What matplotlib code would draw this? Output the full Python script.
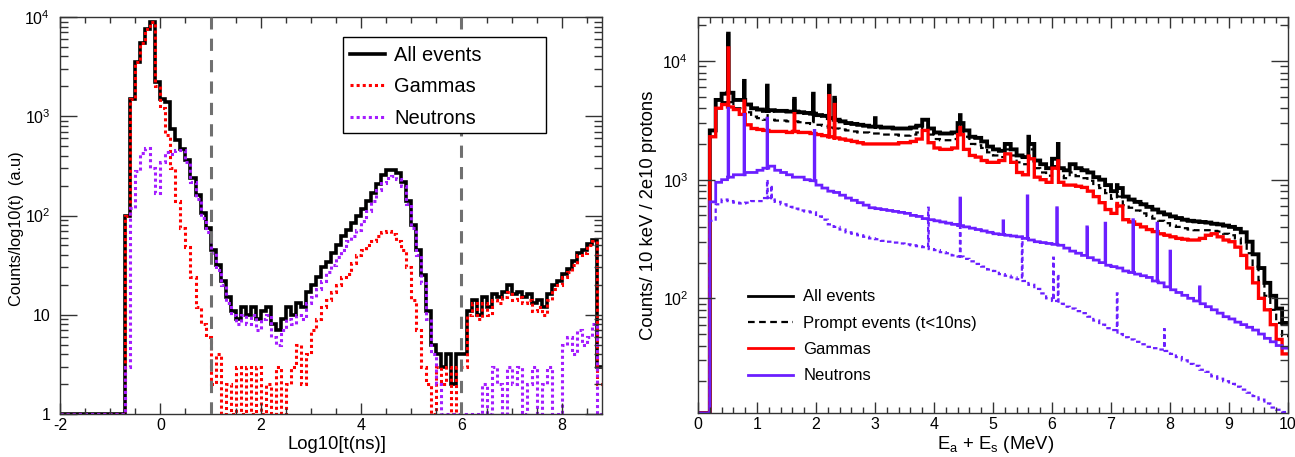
import numpy as np
import matplotlib.pyplot as plt
from matplotlib.lines import Line2D
from matplotlib.patches import Rectangle
from matplotlib.ticker import FixedLocator, FixedFormatter, MultipleLocator, LogLocator, NullFormatter

plt.rcParams['font.family'] = ['Liberation Sans', 'DejaVu Sans']
plt.rcParams['mathtext.fontset'] = 'custom'
plt.rcParams['mathtext.rm'] = 'Liberation Sans'
plt.rcParams['mathtext.it'] = 'Liberation Sans:italic'
plt.rcParams['axes.unicode_minus'] = False

# ---- left panel: time spectrum, bins of 0.1 in log10(t[ns]) from -2 to 8.8
t_all = [
    0, 0, 0, 0, 0, 0, 0, 0, 0, 0,
    0, 0, 0, 100, 1500, 3500, 5500, 7500, 9000, 2200,
    1500, 1400, 750, 580, 470, 360, 240, 160, 105, 75,
    45, 32, 22, 15, 11, 9, 12, 10, 12, 9,
    11, 12, 8, 7, 9, 12, 10, 13, 12, 17,
    20, 24, 30, 34, 42, 50, 62, 72, 85, 98,
    115, 140, 170, 210, 255, 290, 290, 265, 220, 140,
    80, 45, 25, 11, 5, 4, 3, 4, 2, 4,
    4, 11, 14, 10, 15, 12, 16, 15, 17, 20,
    16, 17, 15, 16, 13, 14, 12, 16, 20, 22,
    26, 29, 35, 42, 45, 52, 57, 3]
t_gamma = [
    0, 0, 0, 0, 0, 0, 0, 0, 0, 0,
    0, 0, 0, 100, 1500, 3500, 5500, 7500, 9000, 2000,
    1200, 650, 300, 140, 75, 48, 24, 12, 8, 6,
    2, 4, 0, 2, 1, 3, 0, 3, 1, 3,
    0, 2, 1, 3, 1, 2, 3, 5, 2, 4,
    7, 9, 12, 14, 17, 20, 24, 26, 33, 40,
    45, 50, 55, 62, 68, 70, 65, 55, 45, 30,
    14, 7, 3, 2, 1, 3, 2, 3, 1, 3,
    3, 10, 13, 9, 13, 10, 14, 13, 15, 17,
    14, 15, 13, 14, 11, 12, 10, 14, 18, 20,
    24, 27, 32, 40, 42, 50, 55, 2]
t_neutron = [
    0, 0, 0, 0, 0, 0, 0, 0, 0, 0,
    0, 0, 0, 3, 120, 280, 430, 480, 300, 170,
    350, 440, 420, 460, 460, 350, 220, 145, 95, 68,
    42, 28, 20, 13, 10, 8, 10, 8, 10, 7,
    9, 10, 6, 5, 7, 9, 8, 10, 9, 13,
    15, 18, 22, 27, 32, 38, 45, 55, 62, 72,
    88, 110, 140, 180, 215, 240, 250, 235, 200, 130,
    75, 40, 21, 9, 4, 2, 1, 0, 0, 1,
    0, 0, 1, 0, 2, 1, 3, 2, 1, 3,
    2, 3, 1, 2, 3, 1, 2, 3, 1, 0,
    5, 6, 4, 7, 5, 6, 8, 1]
t_cuts = [1, 6]

# ---- right panel: energy spectrum, continuum in 0.1 MeV bins + narrow lines
e_all = [
    0, 0, 2600, 4700, 5300, 5400, 4700, 4700, 4300, 4000,
    3900, 3800, 3850, 3800, 3800, 3750, 3750, 3700, 3650, 3600,
    3500, 3450, 3300, 3200, 3100, 3000, 2950, 2900, 2850, 2800,
    2800, 2750, 2750, 2700, 2700, 2700, 2750, 2850, 3200, 2700,
    2500, 2450, 2450, 2500, 3000, 2600, 2300, 2250, 2100, 1900,
    1800, 1750, 2000, 1800, 1600, 1550, 2000, 1450, 1350, 1250,
    1500, 1250, 1200, 1350, 1250, 1200, 1150, 1050, 1000, 900,
    800, 850, 720, 680, 650, 620, 590, 560, 530, 510,
    490, 475, 460, 450, 445, 440, 435, 425, 420, 410,
    400, 385, 360, 300, 235, 180, 135, 105, 82, 62]
e_prompt = [
    0, 0, 2300, 4000, 4500, 4500, 4000, 4000, 3700, 3400,
    3300, 3200, 3200, 3150, 3150, 3100, 3100, 3050, 3000, 2950,
    2900, 2850, 2750, 2700, 2650, 2600, 2550, 2500, 2500, 2450,
    2450, 2400, 2400, 2400, 2350, 2350, 2400, 2500, 2900, 2400,
    2200, 2150, 2150, 2200, 2700, 2300, 2000, 1950, 1850, 1700,
    1600, 1550, 1800, 1600, 1400, 1350, 1800, 1250, 1150, 1080,
    1300, 1080, 1030, 1150, 1070, 1030, 980, 900, 850, 770,
    690, 720, 610, 580, 550, 520, 495, 470, 450, 430,
    410, 400, 390, 380, 375, 375, 375, 370, 365, 350,
    340, 320, 290, 240, 185, 140, 105, 80, 62, 48]
e_gamma = [
    0, 0, 2300, 4000, 4300, 4100, 3900, 3550, 2900, 2700,
    2650, 2600, 2550, 2550, 2550, 2500, 2550, 2500, 2500, 2450,
    2400, 2350, 2300, 2250, 2200, 2150, 2100, 2050, 2000, 2000,
    2000, 2000, 2000, 2000, 2050, 2050, 2100, 2200, 2600, 2050,
    1850, 1800, 1800, 1850, 2400, 1800, 1600, 1550, 1450, 1400,
    1400, 1450, 1650, 1400, 1150, 1100, 1500, 1050, 1000, 950,
    1250, 950, 900, 900, 880, 860, 800, 720, 640, 560,
    520, 600, 460, 440, 420, 400, 380, 365, 350, 340,
    330, 320, 315, 310, 310, 320, 340, 350, 330, 310,
    300, 270, 230, 180, 135, 100, 80, 60, 45, 34]
e_neutron = [
    0, 0, 650, 950, 1000, 1050, 1100, 1100, 1150, 1150,
    1200, 1250, 1300, 1200, 1150, 1100, 1050, 1050, 1000, 980,
    900, 850, 800, 780, 740, 700, 670, 640, 610, 580,
    570, 560, 550, 540, 530, 520, 500, 490, 470, 460,
    450, 440, 430, 420, 410, 400, 390, 380, 370, 360,
    350, 345, 340, 335, 330, 320, 310, 300, 295, 290,
    285, 280, 265, 250, 240, 230, 220, 210, 200, 190,
    185, 180, 170, 165, 160, 155, 150, 140, 135, 125,
    118, 112, 106, 100, 95, 90, 85, 80, 75, 70,
    67, 63, 60, 57, 54, 50, 46, 43, 40, 38]
e_neutron_prompt = [
    0, 0, 450, 620, 680, 660, 640, 630, 640, 660,
    660, 700, 680, 650, 620, 590, 570, 550, 540, 530,
    490, 460, 420, 400, 380, 360, 350, 340, 330, 320,
    315, 305, 300, 295, 290, 285, 280, 275, 270, 260,
    255, 245, 240, 230, 225, 215, 205, 195, 185, 175,
    170, 160, 155, 150, 145, 140, 130, 120, 110, 100,
    95, 90, 85, 82, 78, 75, 70, 65, 60, 56,
    54, 50, 47, 45, 43, 41, 39, 38, 37, 36,
    34, 32, 30, 28, 27, 25, 24, 22, 21, 20,
    19, 18, 17, 16, 15, 14, 13, 12, 11.5, 11]

# narrow lines: energy (MeV) and peak height
lines_all = [(0.51, 17000), (0.78, 6800), (1.17, 6200), (1.63, 4800), (1.95, 5300),
             (2.22, 6200), (2.31, 4900), (3.0, 3300), (4.44, 3500), (5.6, 2300),
             (6.1, 2000), (7.1, 900)]
lines_prompt = [(0.51, 15000), (0.78, 5800), (1.17, 4000), (1.63, 4200), (1.95, 4000),
                (2.22, 5600), (2.31, 4400), (4.44, 3100), (5.6, 2000), (6.1, 1800),
                (7.1, 800)]
lines_gamma = [(0.51, 12900), (0.78, 4600), (1.63, 3600), (2.22, 5100), (2.31, 4300),
               (4.44, 2750), (5.6, 1580), (6.1, 1440), (7.1, 630)]
lines_neutron = [(0.51, 4000), (0.78, 3550), (1.17, 3300), (1.97, 2600), (4.44, 700),
                 (5.17, 450), (5.58, 730), (6.08, 580), (6.59, 400), (6.9, 430),
                 (7.37, 460), (7.78, 430), (8.0, 250), (8.5, 125)]
lines_neutron_prompt = [(1.17, 1000), (1.24, 900), (3.9, 580), (4.44, 400), (5.49, 330),
                        (6.02, 220), (6.1, 160), (7.1, 110), (7.9, 55)]

e_edges = np.linspace(0, 10, 1001)


def fine_spectrum(coarse, lines):
    y = np.repeat(np.asarray(coarse, dtype=float), 10)
    for e, h in lines:
        i = int(round(e * 100))
        y[i] = max(y[i], h)
    return y


fig = plt.figure(figsize=(12.95, 4.57), dpi=100)
W, H = 1295, 457
RED = '#ff0000'
VIOLET_L = '#a41cff'
VIOLET_R = '#6b1fff'

# ================= left =================
ax1 = fig.add_axes([60 / W, (H - 414) / H, 542 / W, 397 / H])
t_edges = np.linspace(-2.0, 8.8, len(t_all) + 1)
ymin1 = 1.0
ax1.stairs(np.maximum(t_all, ymin1), t_edges, baseline=None, color='black', lw=2.6)
ax1.stairs(np.maximum(t_gamma, ymin1), t_edges, baseline=None, color=RED, lw=2.2,
           ls=(0, (1, 1)))
ax1.stairs(np.maximum(t_neutron, ymin1), t_edges, baseline=None, color=VIOLET_L, lw=2.2,
           ls=(0, (1, 1)))
for xc in t_cuts:
    ax1.axvline(xc, color='#707070', lw=2.2, ls=(0, (4, 3)), zorder=5)

ax1.set_xlim(-2, 8.8)
ax1.set_yscale('log')
ax1.set_ylim(ymin1, 1e4)
ax1.xaxis.set_major_locator(MultipleLocator(2))
ax1.xaxis.set_minor_locator(MultipleLocator(0.5))
ax1.yaxis.set_major_locator(FixedLocator([1, 10, 100, 1000, 10000]))
ax1.yaxis.set_major_formatter(FixedFormatter(['1', '10', '$10^2$', '$10^3$', '$10^4$']))
ax1.yaxis.set_minor_locator(LogLocator(subs=np.arange(2, 10)))
ax1.yaxis.set_minor_formatter(NullFormatter())
ax1.set_xlabel('Log10[t(ns)]', fontsize=13.3)
ax1.set_ylabel('Counts/log10(t)  (a.u)', fontsize=11.8)
ax1.xaxis.set_label_coords(0.511, -0.055)
ax1.yaxis.set_label_coords(-0.066, 0.468)

# legend box (ROOT style, wider than its text)
ax1.add_patch(Rectangle((0.522, 0.708), 0.375, 0.242, transform=ax1.transAxes,
                        facecolor='white', edgecolor='black', lw=1.0, zorder=6))
leg1 = ax1.legend(handles=[Line2D([], [], color='black', lw=2.6),
                           Line2D([], [], color=RED, lw=2.2, ls=(0, (1, 1))),
                           Line2D([], [], color=VIOLET_L, lw=2.2, ls=(0, (1, 1)))],
                  labels=['All events', 'Gammas', 'Neutrons'],
                  loc='upper left', bbox_to_anchor=(0.535, 0.927), fontsize=14.5,
                  handlelength=1.75, handletextpad=0.45, labelspacing=0.62,
                  borderpad=0, borderaxespad=0, frameon=False)
leg1.set_zorder(7)

# ================= right =================
ax2 = fig.add_axes([698 / W, (H - 413) / H, 590 / W, 396 / H])
ymin2 = 10.8
ax2.stairs(np.maximum(fine_spectrum(e_all, lines_all), ymin2), e_edges, baseline=None,
           color='black', lw=2.8)
ax2.stairs(np.maximum(fine_spectrum(e_prompt, lines_prompt), ymin2), e_edges, baseline=None,
           color='black', lw=1.6, ls=(0, (3, 2)))
ax2.stairs(np.maximum(fine_spectrum(e_gamma, lines_gamma), ymin2), e_edges, baseline=None,
           color=RED, lw=2.4)
ax2.stairs(np.maximum(fine_spectrum(e_neutron, lines_neutron), ymin2), e_edges, baseline=None,
           color=VIOLET_R, lw=2.0)
ax2.stairs(np.maximum(fine_spectrum(e_neutron_prompt, lines_neutron_prompt), ymin2), e_edges,
           baseline=None, color=VIOLET_R, lw=1.6, ls=(0, (2, 1.5)))

ax2.set_xlim(0, 10)
ax2.set_yscale('log')
ax2.set_ylim(ymin2, 2.35e4)
ax2.xaxis.set_major_locator(MultipleLocator(1))
ax2.xaxis.set_minor_locator(MultipleLocator(0.2))
ax2.yaxis.set_major_locator(FixedLocator([100, 1000, 10000]))
ax2.yaxis.set_major_formatter(FixedFormatter(['$10^2$', '$10^3$', '$10^4$']))
ax2.yaxis.set_minor_locator(LogLocator(subs=np.arange(2, 10)))
ax2.yaxis.set_minor_formatter(NullFormatter())
ax2.set_xlabel('E$_\\mathrm{a}$ + E$_\\mathrm{s}$ (MeV)', fontsize=13.3)
ax2.set_ylabel('Counts/ 10 keV / 2e10 protons', fontsize=13.3)
ax2.xaxis.set_label_coords(0.505, -0.052)
ax2.yaxis.set_label_coords(-0.07, 0.5)

ax2.legend(handles=[Line2D([], [], color='black', lw=2.0),
                    Line2D([], [], color='black', lw=1.6, ls=(0, (3, 2))),
                    Line2D([], [], color=RED, lw=2.0),
                    Line2D([], [], color=VIOLET_R, lw=2.0)],
           labels=['All events', 'Prompt events (t<10ns)', 'Gammas', 'Neutrons'],
           loc='upper left', bbox_to_anchor=(0.085, 0.312), fontsize=12,
           handlelength=2.7, handletextpad=0.6, labelspacing=0.68,
           borderpad=0, borderaxespad=0, frameon=False)

for ax in (ax1, ax2):
    ax.tick_params(which='both', direction='in', top=True, right=True, labelsize=11.5,
                   width=1.0, color='#333333')
    ax.tick_params(axis='x', which='major', length=8, pad=3)
    ax.tick_params(axis='x', which='minor', length=4.3)
    ax.tick_params(axis='y', which='major', length=12, pad=7)
    ax.tick_params(axis='y', which='minor', length=6)
    for s in ax.spines.values():
        s.set_linewidth(1.0)
        s.set_color('#333333')

fig.savefig('out.png', dpi=100)
